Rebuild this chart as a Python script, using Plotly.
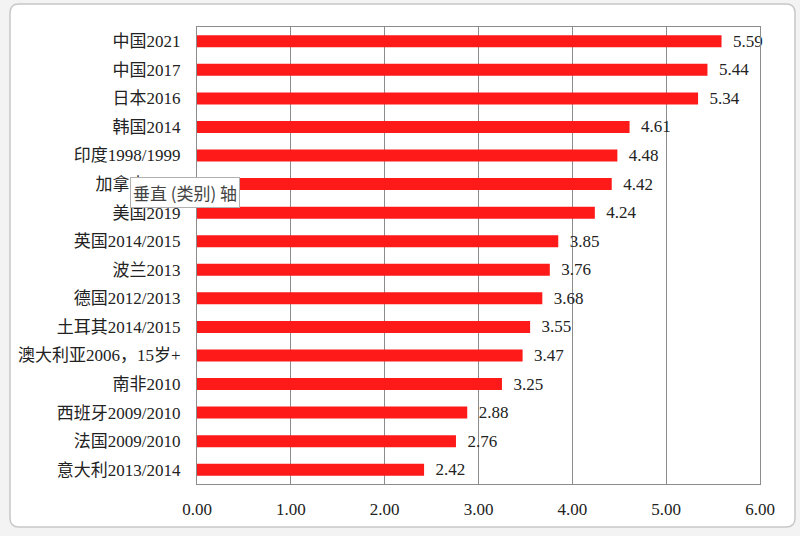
import plotly.graph_objects as go

categories = ["中国2021", "中国2017", "日本2016", "韩国2014", "印度1998/1999", "加拿大2015",
              "美国2019", "英国2014/2015", "波兰2013", "德国2012/2013", "土耳其2014/2015",
              "澳大利亚2006，15岁+", "南非2010", "西班牙2009/2010", "法国2009/2010", "意大利2013/2014"]
values = [5.59, 5.44, 5.34, 4.61, 4.48, 4.42, 4.24, 3.85, 3.76, 3.68, 3.55, 3.47, 3.25, 2.88, 2.76, 2.42]
x_ticks = [0, 1, 2, 3, 4, 5, 6]
x_tick_labels = ["0.00", "1.00", "2.00", "3.00", "4.00", "5.00", "6.00"]

W, H = 800, 536
L, R, T, B = 197, 40, 27, 52
PW, PH = W - L - R, H - T - B

def fx(px):
    return (px - L) / PW

def fy(py):
    return (H - B - py) / PH

serif = "Liberation Serif, Times New Roman, Noto Sans CJK SC, serif"

fig = go.Figure()
fig.add_trace(go.Bar(
    y=categories, x=values, orientation="h",
    marker=dict(color="#ff1a1a", line=dict(width=0)),
    text=[f"{v:.2f}" for v in values],
    texttemplate="  %{text}",
    textposition="outside",
    constraintext="none",
    textfont=dict(family=serif, size=17, color="#222"),
    cliponaxis=False,
))

# rounded chart frame
x0, x1, y0, y1 = fx(10), fx(795), fy(527), fy(4)
rx, ry = 9 / PW, 9 / PH
path = (f"M {x0+rx},{y1} L {x1-rx},{y1} Q {x1},{y1} {x1},{y1-ry} "
        f"L {x1},{y0+ry} Q {x1},{y0} {x1-rx},{y0} L {x0+rx},{y0} "
        f"Q {x0},{y0} {x0},{y0+ry} L {x0},{y1-ry} Q {x0},{y1} {x0+rx},{y1} Z")
fig.add_shape(type="path", path=path, xref="paper", yref="paper",
              line=dict(color="#c8c8c8", width=1.5), fillcolor="white", layer="below")

fig.add_annotation(
    x=fx(185), y=fy(193), xref="paper", yref="paper",
    text="垂直 (类别) 轴", showarrow=False,
    font=dict(family="Noto Sans CJK SC, sans-serif", size=17, color="#444"),
    bgcolor="white", bordercolor="#b0b0b0", borderwidth=1, borderpad=2,
    xanchor="center", yanchor="middle",
)

fig.update_layout(
    width=W, height=H,
    margin=dict(l=L, r=R, t=T, b=B),
    paper_bgcolor="#f3f3f3",
    plot_bgcolor="white",
    showlegend=False,
    bargap=0.58,
    xaxis=dict(
        range=[0, 6], tickvals=x_ticks, ticktext=x_tick_labels,
        showgrid=True, gridcolor="#8c8c8c", gridwidth=1,
        zeroline=False, showline=True, linecolor="#8c8c8c", mirror=True,
        ticks="", ticklabelstandoff=10,
        tickfont=dict(family=serif, size=17, color="#222"),
    ),
    yaxis=dict(
        autorange="reversed", showgrid=False, zeroline=False,
        showline=True, linecolor="#8c8c8c", mirror=True,
        ticks="", ticklabelstandoff=12,
        tickfont=dict(family=serif, size=17, color="#222"),
    ),
)

fig.write_html("out.html")
